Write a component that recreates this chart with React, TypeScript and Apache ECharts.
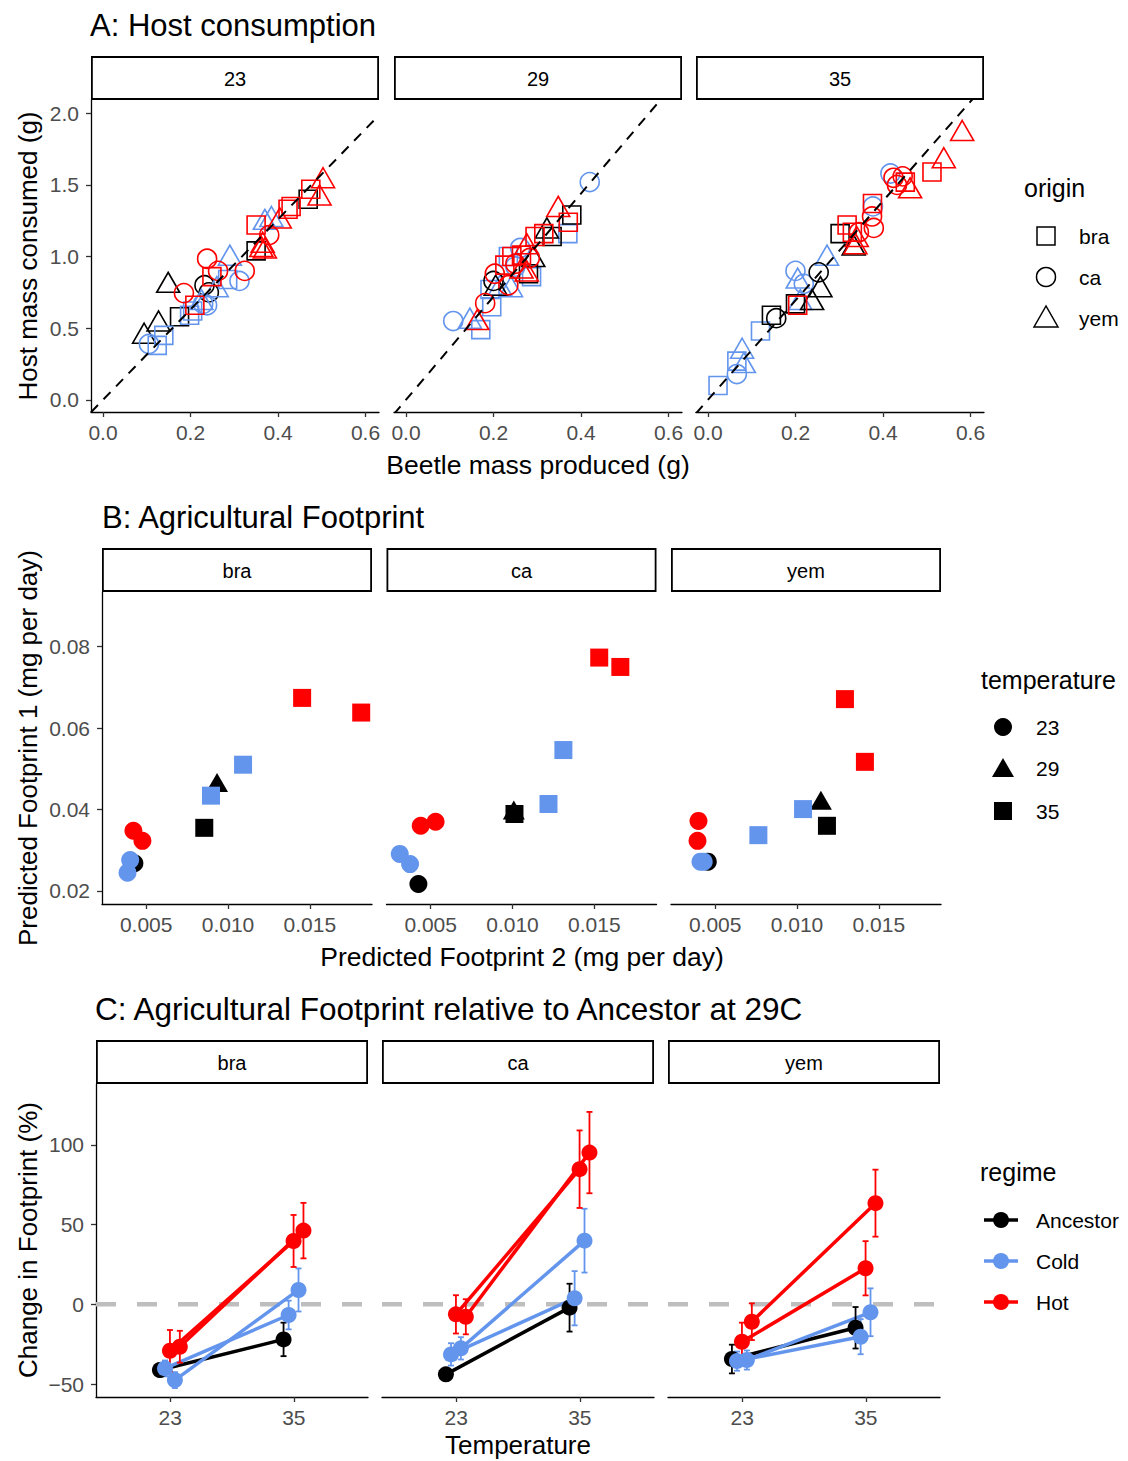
import React, { useEffect, useRef } from "react";
import * as echarts from "echarts";

const FONT = "'Liberation Sans', Arial, Helvetica, sans-serif";
const TICK_GREY = "#4D4D4D";
const regimeColor: Record<string, string> = { Ancestor: "#000000", Cold: "#6495ED", Hot: "#FF0000" };

// ---------------- Panel A: Host consumption ----------------
const hostFacetLabels = ["23", "29", "35"];
const hostLineSlopes = [3.15, 3.6, 3.47];
const hostTicksX = [0, 0.2, 0.4, 0.6];
const hostTicksY = [0, 0.5, 1.0, 1.5, 2.0];
const originLevels = ["bra", "ca", "yem"];
// [beetle mass produced, host mass consumed, origin, regime]
const host23: [number, number, string, string][] = [
  [0.149, 0.82, "yem", "Ancestor"], [0.127, 0.55, "yem", "Ancestor"], [0.094, 0.465, "yem", "Ancestor"],
  [0.175, 0.58, "bra", "Ancestor"], [0.232, 0.8, "ca", "Ancestor"], [0.242, 0.75, "ca", "Ancestor"],
  [0.35, 1.04, "bra", "Ancestor"], [0.469, 1.4, "bra", "Ancestor"],
  [0.105, 0.39, "ca", "Cold"], [0.124, 0.38, "bra", "Cold"], [0.139, 0.45, "bra", "Cold"],
  [0.198, 0.59, "bra", "Cold"], [0.205, 0.62, "bra", "Cold"], [0.229, 0.67, "ca", "Cold"],
  [0.238, 0.66, "ca", "Cold"], [0.26, 0.79, "yem", "Cold"], [0.225, 0.7, "yem", "Cold"],
  [0.29, 1.01, "yem", "Cold"], [0.312, 0.83, "ca", "Cold"], [0.285, 0.84, "bra", "Cold"],
  [0.37, 1.26, "yem", "Cold"], [0.385, 1.28, "yem", "Cold"],
  [0.21, 0.66, "bra", "Hot"], [0.185, 0.745, "ca", "Hot"], [0.238, 0.985, "ca", "Hot"],
  [0.263, 0.9, "ca", "Hot"], [0.249, 0.86, "bra", "Hot"], [0.324, 0.9, "ca", "Hot"],
  [0.35, 1.22, "bra", "Hot"], [0.362, 1.07, "yem", "Hot"], [0.37, 1.06, "yem", "Hot"],
  [0.365, 1.1, "yem", "Hot"], [0.38, 1.15, "ca", "Hot"], [0.404, 1.27, "yem", "Hot"],
  [0.423, 1.33, "bra", "Hot"], [0.43, 1.35, "bra", "Hot"], [0.475, 1.47, "bra", "Hot"],
  [0.503, 1.55, "yem", "Hot"], [0.495, 1.43, "yem", "Hot"],
];
const host29: [number, number, string, string][] = [
  [0.42, 1.52, "ca", "Cold"], [0.37, 1.16, "bra", "Cold"], [0.261, 1.06, "ca", "Cold"],
  [0.287, 0.86, "bra", "Cold"], [0.234, 1.0, "bra", "Cold"], [0.192, 0.77, "bra", "Cold"],
  [0.196, 0.65, "bra", "Cold"], [0.108, 0.55, "ca", "Cold"], [0.146, 0.57, "yem", "Cold"],
  [0.171, 0.49, "bra", "Cold"], [0.24, 0.79, "yem", "Cold"], [0.25, 0.93, "ca", "Cold"],
  [0.215, 0.8, "yem", "Cold"],
  [0.379, 1.29, "bra", "Ancestor"], [0.322, 1.2, "yem", "Ancestor"], [0.334, 1.14, "bra", "Ancestor"],
  [0.291, 1.0, "yem", "Ancestor"], [0.28, 0.88, "bra", "Ancestor"], [0.2, 0.83, "ca", "Ancestor"],
  [0.205, 0.8, "yem", "Ancestor"],
  [0.348, 1.35, "yem", "Hot"], [0.371, 1.24, "bra", "Hot"], [0.315, 1.16, "bra", "Hot"],
  [0.295, 1.14, "bra", "Hot"], [0.276, 1.09, "yem", "Hot"], [0.264, 1.01, "bra", "Hot"],
  [0.242, 1.0, "bra", "Hot"], [0.226, 0.94, "bra", "Hot"], [0.283, 0.99, "ca", "Hot"],
  [0.203, 0.88, "ca", "Hot"], [0.234, 0.8, "ca", "Hot"], [0.181, 0.675, "ca", "Hot"],
  [0.264, 0.92, "yem", "Hot"], [0.276, 0.9, "yem", "Hot"], [0.163, 0.56, "yem", "Hot"],
  [0.25, 0.95, "ca", "Hot"],
];
const host35: [number, number, string, string][] = [
  [0.023, 0.1, "bra", "Cold"], [0.066, 0.18, "ca", "Cold"], [0.082, 0.26, "yem", "Cold"],
  [0.078, 0.36, "yem", "Cold"], [0.066, 0.27, "bra", "Cold"], [0.12, 0.48, "bra", "Cold"],
  [0.211, 0.7, "yem", "Cold"], [0.2, 0.9, "ca", "Cold"], [0.219, 0.81, "ca", "Cold"],
  [0.205, 0.85, "yem", "Cold"], [0.272, 1.01, "yem", "Cold"], [0.377, 1.35, "ca", "Cold"],
  [0.417, 1.58, "ca", "Cold"],
  [0.156, 0.57, "ca", "Ancestor"], [0.145, 0.59, "bra", "Ancestor"], [0.2, 0.67, "bra", "Ancestor"],
  [0.238, 0.7, "yem", "Ancestor"], [0.257, 0.79, "yem", "Ancestor"], [0.253, 0.89, "ca", "Ancestor"],
  [0.302, 1.16, "bra", "Ancestor"], [0.333, 1.08, "yem", "Ancestor"],
  [0.205, 0.66, "bra", "Hot"], [0.318, 1.22, "bra", "Hot"], [0.33, 1.17, "bra", "Hot"],
  [0.34, 1.14, "yem", "Hot"], [0.337, 1.09, "yem", "Hot"], [0.345, 1.17, "ca", "Hot"],
  [0.375, 1.28, "ca", "Hot"], [0.379, 1.2, "ca", "Hot"], [0.376, 1.37, "bra", "Hot"],
  [0.424, 1.55, "ca", "Hot"], [0.432, 1.5, "ca", "Hot"], [0.445, 1.56, "ca", "Hot"],
  [0.451, 1.52, "bra", "Hot"], [0.462, 1.48, "yem", "Hot"], [0.512, 1.59, "bra", "Hot"],
  [0.539, 1.69, "yem", "Hot"], [0.581, 1.88, "yem", "Hot"],
];

// ---------------- Panel B: Agricultural footprint ----------------
const fpFacetLabels = ["bra", "ca", "yem"];
const fpTicksX = [0.005, 0.01, 0.015];
const fpTicksY = [0.02, 0.04, 0.06, 0.08];
const tempLevels = ["23", "29", "35"];
// [footprint 2, footprint 1, temperature, regime]
const fpBra: [number, number, string, string][] = [
  [0.01453, 0.0674, "35", "Hot"], [0.01814, 0.0638, "35", "Hot"], [0.01092, 0.051, "35", "Cold"],
  [0.00933, 0.0466, "29", "Ancestor"], [0.00896, 0.0434, "35", "Cold"], [0.00855, 0.0355, "35", "Ancestor"],
  [0.00422, 0.0348, "23", "Hot"], [0.00477, 0.0323, "23", "Hot"], [0.00428, 0.0268, "23", "Ancestor"],
  [0.00402, 0.0276, "23", "Cold"], [0.00386, 0.0245, "23", "Cold"],
];
const fpCa: [number, number, string, string][] = [
  [0.0153, 0.0773, "35", "Hot"], [0.01659, 0.075, "35", "Hot"], [0.01311, 0.0546, "35", "Cold"],
  [0.0122, 0.04135, "35", "Cold"], [0.01008, 0.0399, "29", "Ancestor"], [0.01012, 0.0389, "35", "Ancestor"],
  [0.00439, 0.036, "23", "Hot"], [0.0053, 0.037, "23", "Hot"], [0.00311, 0.0291, "23", "Cold"],
  [0.00374, 0.0266, "23", "Cold"], [0.00425, 0.0217, "23", "Ancestor"],
];
const fpYem: [number, number, string, string][] = [
  [0.01293, 0.0671, "35", "Hot"], [0.01415, 0.0517, "35", "Hot"], [0.01146, 0.0423, "29", "Ancestor"],
  [0.01183, 0.036, "35", "Ancestor"], [0.01037, 0.0401, "35", "Cold"], [0.00764, 0.0337, "35", "Cold"],
  [0.00398, 0.0372, "23", "Hot"], [0.00392, 0.0323, "23", "Hot"], [0.00455, 0.0272, "23", "Ancestor"],
  [0.0041, 0.0272, "23", "Cold"], [0.0043, 0.0272, "23", "Cold"],
];

// ---------------- Panel C: change relative to ancestor at 29C ----------------
const changeFacetLabels = ["bra", "ca", "yem"];
const changeTemps = ["23", "35"];
const changeTicksY = [-50, 0, 50, 100];
const changeLineRegimes = ["Ancestor", "Cold", "Hot", "Cold", "Hot"];
// per line: [change at 23, error at 23, change at 35, error at 35]
const changeBra = [
  [-41.2, 4, -22.0, 10.5], [-40.2, 5, -6.7, 9], [-29.1, 13, 39.7, 16.3], [-47.5, 5, 9.0, 13.5], [-26.6, 10, 46.2, 17.4],
];
const changeCa = [
  [-43.9, 4, -2.1, 15], [-31.4, 7, 3.8, 17], [-6.3, 12, 84.7, 24.3], [-27.6, 7, 39.9, 20], [-7.8, 11, 95.1, 25.5],
];
const changeYem = [
  [-34.3, 9, -14.7, 13], [-35.6, 6, -20.3, 11], [-23.5, 12, 22.6, 17], [-34.9, 6, -5.0, 15], [-10.9, 11.5, 63.4, 21],
];
const regimeLevels = ["Ancestor", "Cold", "Hot"];

// ---------------- layout (not data) ----------------
const dodge = [-0.083, -0.042, -0.002, 0.038, 0.078];
const panels = [
  { top: 100, height: 312, lefts: [91, 394, 696], width: 288, stripTop: 57, xMin: -0.0274, xMax: 0.6309, yMin: -0.085, yMax: 2.093 },
  { top: 592, height: 312, lefts: [102, 386.5, 671], width: 270, stripTop: 549, xMin: 0.0023, xMax: 0.0188, yMin: 0.0168, yMax: 0.0934 },
  { top: 1084, height: 313, lefts: [96, 382, 668], width: 272, stripTop: 1041, xMin: 0.4, xMax: 2.6, yMin: -58.1, yMax: 138.1 },
];
const originSymbol: Record<string, string> = { bra: "rect", ca: "circle", yem: "triangle" };
const originSize: Record<string, any> = { bra: 18, ca: 19, yem: [23, 20] };
const tempSymbol: Record<string, string> = { "23": "circle", "29": "triangle", "35": "rect" };
const tempSize: Record<string, any> = { "23": 18, "29": [22, 19], "35": 18 };

function txt(text: string, x: number, y: number, size: number, opts: any = {}) {
  return {
    type: "text",
    x,
    y,
    rotation: opts.rotation || 0,
    silent: true,
    style: {
      text,
      x: 0,
      y: 0,
      fill: opts.color || "#000",
      font: `${size}px ${FONT}`,
      textAlign: opts.align || "left",
      textVerticalAlign: "middle",
    },
  };
}

function buildOption() {
  const grid: any[] = [];
  const xAxis: any[] = [];
  const yAxis: any[] = [];
  const series: any[] = [];
  const graphic: any[] = [];

  const xFormatters = [
    (v: number) => v.toFixed(1),
    (v: number) => v.toFixed(3),
    (v: number) => changeTemps[Math.round(v) - 1],
  ];
  const yFormatters = [
    (v: number) => v.toFixed(1),
    (v: number) => v.toFixed(2),
    (v: number) => (v < 0 ? "\u2212" + Math.abs(v) : String(v)),
  ];
  const xTicks = [hostTicksX, fpTicksX, [1, 2]];
  const yTicks = [hostTicksY, fpTicksY, changeTicksY];
  const facetLabels = [hostFacetLabels, fpFacetLabels, changeFacetLabels];

  panels.forEach((p, pi) => {
    p.lefts.forEach((left, f) => {
      const gi = pi * 3 + f;
      grid.push({ left, top: p.top, width: p.width, height: p.height, containLabel: false });
      xAxis.push({
        type: "value",
        gridIndex: gi,
        min: p.xMin,
        max: p.xMax,
        axisLine: { show: true, onZero: false, lineStyle: { color: "#000", width: 1.3 } },
        axisTick: { show: true, length: 5, customValues: xTicks[pi], lineStyle: { color: "#333", width: 1.3 } },
        axisLabel: {
          show: true,
          customValues: xTicks[pi],
          formatter: xFormatters[pi],
          color: TICK_GREY,
          fontSize: 21,
          fontFamily: FONT,
          margin: 10,
          hideOverlap: false,
        },
        splitLine: { show: false },
      });
      yAxis.push({
        type: "value",
        gridIndex: gi,
        min: p.yMin,
        max: p.yMax,
        show: f === 0,
        axisLine: { show: true, onZero: false, lineStyle: { color: "#000", width: 1.3 } },
        axisTick: { show: true, length: 5, customValues: yTicks[pi], lineStyle: { color: "#333", width: 1.3 } },
        axisLabel: {
          show: true,
          customValues: yTicks[pi],
          formatter: yFormatters[pi],
          color: TICK_GREY,
          fontSize: 21,
          fontFamily: FONT,
          margin: 12,
          hideOverlap: false,
        },
        splitLine: { show: false },
      });
      // strip
      graphic.push({
        type: "rect",
        silent: true,
        shape: { x: left + 0.9, y: p.stripTop, width: p.width - 1.8, height: 42 },
        style: { fill: "#fff", stroke: "#000", lineWidth: 1.8 },
      });
      graphic.push(txt(facetLabels[pi][f], left + p.width / 2, p.stripTop + 22, 20, { align: "center" }));
    });
  });

  // ----- Panel A series -----
  [host23, host29, host35].forEach((pts, f) => {
    const p = panels[0];
    series.push({
      type: "scatter",
      xAxisIndex: f,
      yAxisIndex: f,
      silent: true,
      z: 2,
      data: pts.map(([x, y, o, r]) => ({
        value: [x, y],
        symbol: originSymbol[o],
        symbolSize: originSize[o],
        itemStyle: { color: "rgba(0,0,0,0)", borderColor: regimeColor[r], borderWidth: 1.6, opacity: 1 },
      })),
    });
    series.push({
      type: "line",
      xAxisIndex: f,
      yAxisIndex: f,
      silent: true,
      symbol: "none",
      clip: true,
      z: 3,
      data: [
        [p.xMin, p.xMin * hostLineSlopes[f]],
        [p.xMax, p.xMax * hostLineSlopes[f]],
      ],
      lineStyle: { color: "#000", width: 2, type: [10, 8] },
    });
  });

  // ----- Panel B series -----
  [fpBra, fpCa, fpYem].forEach((pts, f) => {
    const gi = 3 + f;
    series.push({
      type: "scatter",
      xAxisIndex: gi,
      yAxisIndex: gi,
      silent: true,
      data: pts.map(([x, y, t, r]) => ({
        value: [x, y],
        symbol: tempSymbol[t],
        symbolSize: tempSize[t],
        itemStyle: { color: regimeColor[r], opacity: 1 },
      })),
    });
  });

  // ----- Panel C series -----
  const drawOrder = [0, 1, 3, 2, 4];
  [changeBra, changeCa, changeYem].forEach((lines, f) => {
    const gi = 6 + f;
    const p = panels[2];
    series.push({
      type: "line",
      xAxisIndex: gi,
      yAxisIndex: gi,
      silent: true,
      symbol: "none",
      z: 1,
      data: [
        [p.xMin, 0],
        [p.xMax, 0],
      ],
      lineStyle: { color: "#BEBEBE", width: 4.5, type: [20, 21] },
    });
    drawOrder.forEach((li) => {
      const row = lines[li];
      series.push({
        type: "line",
        xAxisIndex: gi,
        yAxisIndex: gi,
        silent: true,
        symbol: "none",
        z: 2,
        data: [
          [1 + dodge[li], row[0]],
          [2 + dodge[li], row[2]],
        ],
        lineStyle: { color: regimeColor[changeLineRegimes[li]], width: 3.5 },
      });
    });
    const ebData: number[][] = [];
    const ebColors: string[] = [];
    const ptData: any[] = [];
    drawOrder.forEach((li) => {
      const row = lines[li];
      const c = regimeColor[changeLineRegimes[li]];
      [0, 1].forEach((ti) => {
        ebData.push([ti + 1 + dodge[li], row[ti * 2], row[ti * 2 + 1]]);
        ebColors.push(c);
        ptData.push({ value: [ti + 1 + dodge[li], row[ti * 2]], itemStyle: { color: c, opacity: 1 } });
      });
    });
    series.push({
      type: "custom",
      coordinateSystem: "cartesian2d",
      xAxisIndex: gi,
      yAxisIndex: gi,
      silent: true,
      z: 3,
      data: ebData,
      renderItem: (params: any, api: any) => {
        const x = api.value(0);
        const y = api.value(1);
        const e = api.value(2);
        const top = api.coord([x, y + e]);
        const bot = api.coord([x, y - e]);
        const c = ebColors[params.dataIndex];
        const st = { stroke: c, lineWidth: 1.8 };
        const cap = 3;
        return {
          type: "group",
          children: [
            { type: "line", shape: { x1: top[0], y1: top[1], x2: bot[0], y2: bot[1] }, style: st },
            { type: "line", shape: { x1: top[0] - cap, y1: top[1], x2: top[0] + cap, y2: top[1] }, style: st },
            { type: "line", shape: { x1: bot[0] - cap, y1: bot[1], x2: bot[0] + cap, y2: bot[1] }, style: st },
          ],
        };
      },
    });
    series.push({
      type: "scatter",
      xAxisIndex: gi,
      yAxisIndex: gi,
      silent: true,
      z: 4,
      symbol: "circle",
      symbolSize: 16,
      data: ptData,
    });
  });

  // ----- titles -----
  graphic.push(txt("A: Host consumption", 90, 25, 31));
  graphic.push(txt("B: Agricultural Footprint", 102, 517, 31));
  graphic.push(txt("C: Agricultural Footprint relative to Ancestor at 29C", 95, 1009, 31.5));
  // axis titles
  graphic.push(txt("Beetle mass produced (g)", 538, 465, 26.5, { align: "center" }));
  graphic.push(txt("Predicted Footprint 2 (mg per day)", 522, 957, 26.5, { align: "center" }));
  graphic.push(txt("Temperature", 518, 1445, 26, { align: "center" }));
  graphic.push(txt("Host mass consumed (g)", 28, 256, 26, { align: "center", rotation: Math.PI / 2 }));
  graphic.push(txt("Predicted Footprint 1 (mg per day)", 28, 748, 26, { align: "center", rotation: Math.PI / 2 }));
  graphic.push(txt("Change in Footprint (%)", 28, 1240, 26, { align: "center", rotation: Math.PI / 2 }));

  // ----- legend A: origin -----
  graphic.push(txt("origin", 1024, 188, 25));
  const legAy = [236, 277, 318];
  originLevels.forEach((o, i) => {
    const cy = legAy[i];
    const st = { fill: "none", stroke: "#000", lineWidth: 1.5 };
    if (o === "bra") graphic.push({ type: "rect", silent: true, shape: { x: 1037, y: cy - 9, width: 18, height: 18 }, style: st });
    else if (o === "ca") graphic.push({ type: "circle", silent: true, shape: { cx: 1046, cy, r: 9.5 }, style: st });
    else graphic.push({ type: "polygon", silent: true, shape: { points: [[1046, cy - 12], [1034, cy + 9], [1058, cy + 9]] }, style: st });
    graphic.push(txt(o, 1079, cy, 21));
  });

  // ----- legend B: temperature -----
  graphic.push(txt("temperature", 981, 680, 25));
  const legBy = [727, 768, 811];
  tempLevels.forEach((t, i) => {
    const cy = legBy[i];
    const st = { fill: "#000" };
    if (t === "23") graphic.push({ type: "circle", silent: true, shape: { cx: 1003, cy, r: 9 }, style: st });
    else if (t === "29") graphic.push({ type: "polygon", silent: true, shape: { points: [[1003, cy - 10], [992, cy + 9], [1014, cy + 9]] }, style: st });
    else graphic.push({ type: "rect", silent: true, shape: { x: 994, y: cy - 9, width: 18, height: 18 }, style: st });
    graphic.push(txt(t, 1036, cy, 21));
  });

  // ----- legend C: regime -----
  graphic.push(txt("regime", 980, 1172, 25));
  const legCy = [1220, 1261, 1302];
  regimeLevels.forEach((r, i) => {
    const cy = legCy[i];
    const c = regimeColor[r];
    graphic.push({ type: "line", silent: true, shape: { x1: 984, y1: cy, x2: 1018, y2: cy }, style: { stroke: c, lineWidth: 3.5 } });
    graphic.push({ type: "circle", silent: true, shape: { cx: 1001, cy, r: 8 }, style: { fill: c } });
    graphic.push(txt(r, 1036, cy, 21));
  });

  return {
    animation: false,
    backgroundColor: "#fff",
    textStyle: { fontFamily: FONT },
    grid,
    xAxis,
    yAxis,
    series,
    graphic: { elements: graphic },
  };
}

export default function App() {
  const ref = useRef<HTMLDivElement>(null);
  useEffect(() => {
    if (!ref.current) return;
    const chart = echarts.init(ref.current, null, { renderer: "svg" });
    chart.setOption(buildOption() as any);
    return () => chart.dispose();
  }, []);
  return (
    <div
      ref={ref}
      style={{ position: "absolute", left: 0, top: 0, width: 1128, height: 1461, background: "#fff" }}
    />
  );
}
